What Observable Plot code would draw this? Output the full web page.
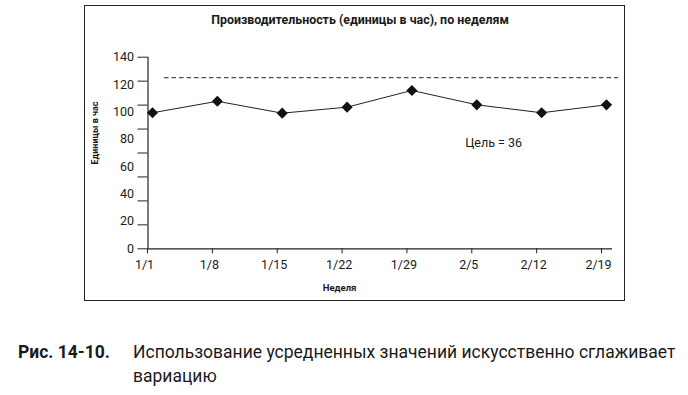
<!DOCTYPE html>
<html>
<head>
<meta charset="utf-8">
<script src="https://cdn.jsdelivr.net/npm/d3@7"></script>
<script src="https://cdn.jsdelivr.net/npm/@observablehq/plot@0.6"></script>
<style>
  html, body { margin: 0; padding: 0; background: #fff; }
  #page { position: relative; width: 688px; height: 395px; overflow: hidden; font-family: Roboto, "Noto Sans", sans-serif; color: #1a1a1a; }
  #box { position: absolute; left: 84px; top: 5px; width: 539px; height: 294px; border: 1.5px solid #222; }
  #title { position: absolute; left: 84px; width: 552px; top: 12px; text-align: center; font-weight: bold; font-size: 12.4px; }
  #chart { position: absolute; left: 0; top: 0; }
  #caption { position: absolute; left: 18px; top: 340px; width: 670px; height: 55px; font-size: 17.5px; line-height: 24px; }
  #caption .num { position: absolute; left: 0; top: 0; font-weight: bold; white-space: nowrap; }
  #caption .txt { position: absolute; left: 115px; top: 0; white-space: nowrap; }
</style>
</head>
<body>
<div id="page">
  <div id="box"></div>
  <div id="title"></div>
  <div id="chart"></div>
  <div id="caption"><span class="num"></span><span class="txt"></span></div>
</div>
<script>
const weeks = ["1/1", "1/8", "1/15", "1/22", "1/29", "2/5", "2/12", "2/19"];
const unitsPerHour = [99.4, 107.8, 99.1, 103.5, 115.7, 105.2, 99.4, 105.2];
const goal = 125;
const yTickLabels = [0, 20, 40, 60, 80, 100, 120, 140];
const yTickMarks = [0, 17.5, 35, 52.5, 70, 87.5, 105, 122.5, 140];
const titleText = "Производительность (единицы в час), по неделям";
const yLabel = "Единицы в час";
const xLabel = "Неделя";
const goalLabel = "Цель = 36";
const captionNum = "Рис. 14-10.";
const captionLines = ["Использование усредненных значений искусственно сглаживает", "вариацию"];

const data = weeks.map((w, i) => ({i, week: w, v: unitsPerHour[i]}));
const idx = weeks.map((w, i) => i);

document.getElementById("title").textContent = titleText;
document.querySelector("#caption .num").textContent = captionNum;
document.querySelector("#caption .txt").innerHTML = captionLines.join("<br>");

const H = 300;
const chart = Plot.plot({
  width: 688,
  height: H,
  marginLeft: 147.5,
  marginRight: 76,
  marginTop: 56.7,
  marginBottom: H - 248.3,
  x: {type: "linear", domain: [0, 7], range: [152, 606]},
  y: {domain: [0, 140]},
  style: {fontFamily: "Roboto, 'Noto Sans', sans-serif", color: "#1a1a1a", background: "transparent"},
  marks: [
    Plot.ruleY([goal], {stroke: "#222", strokeWidth: 1, strokeDasharray: "4.5,3", insetLeft: 16.5, insetRight: -6}),
    Plot.ruleY([0], {stroke: "#222", strokeWidth: 1.2}),
    Plot.ruleX([0], {dx: -4.5, stroke: "#222", strokeWidth: 1.2}),
    Plot.axisY(yTickMarks, {anchor: "left", tickSize: 10, tickFormat: () => "", stroke: "#222", label: null}),
    Plot.axisY(yTickLabels, {anchor: "left", tickSize: 0, tickPadding: 14, fontSize: 12.5, label: null}),
    Plot.axisX(idx, {anchor: "bottom", tickSize: 5, dx: -5, tickFormat: () => "", stroke: "#222", label: null}),
    Plot.axisX(idx, {anchor: "bottom", tickSize: 0, dx: -8, tickPadding: 11, fontSize: 12.5, tickFormat: i => weeks[i], label: null}),
    Plot.line(data, {x: "i", y: "v", stroke: "#222", strokeWidth: 1}),
    Plot.dot(data, {x: "i", y: "v", symbol: "diamond2", r: 5, fill: "#111", stroke: null}),
    Plot.text([goalLabel], {x: 5.26, y: 77.5, fontSize: 12.5, fill: "#1a1a1a"}),
    Plot.text([yLabel], {frameAnchor: "left", rotate: -90, dx: -52.5, dy: 11.5, fontSize: 9, fontWeight: "bold", fill: "#1a1a1a"}),
    Plot.text([xLabel], {frameAnchor: "bottom", dx: -40.75, dy: 41.7, fontSize: 9.5, fontWeight: "bold", fill: "#1a1a1a"})
  ]
});
document.getElementById("chart").appendChild(chart);
</script>
</body>
</html>
